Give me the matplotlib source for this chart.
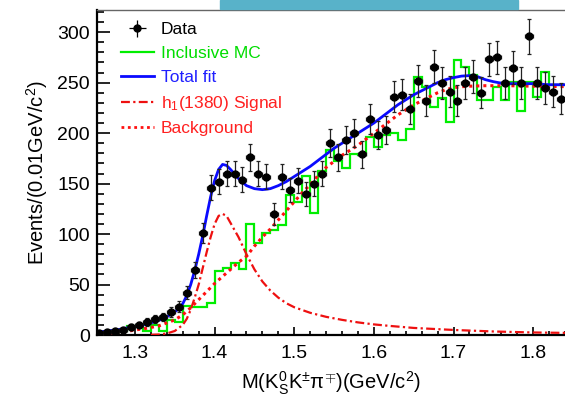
import matplotlib
matplotlib.use("Agg")
import matplotlib.pyplot as plt
from matplotlib.patches import Rectangle
import numpy as np

plt.rcParams['font.family'] = ['Liberation Sans', 'DejaVu Sans']
plt.rcParams['mathtext.fontset'] = 'custom'
plt.rcParams['mathtext.rm'] = 'Liberation Sans'
plt.rcParams['mathtext.it'] = 'Liberation Sans'

# data points, 0.01 GeV bins starting at 1.25
data_counts = [2, 3, 4, 5, 8, 10, 13, 16, 18, 23, 28, 42, 64, 101, 146, 152,
               160, 160, 154, 176, 160, 157, 120, 157, 144, 153, 140, 150, 160,
               190, 176, 193, 200, 179, 214, 198, 203, 236, 238, 224, 252, 232,
               266, 250, 241, 232, 250, 256, 240, 273, 275, 250, 265, 250, 296,
               250, 245, 241, 234]

# inclusive MC histogram, same binning
mc_counts = [2, 2, 3, 4, 9, 9, 4, 10, 4, 15, 13, 29, 28, 28, 32, 63, 66, 71,
             65, 110, 91, 101, 104, 109, 139, 132, 158, 121, 162, 183, 172,
             165, 179, 178, 196, 186, 198, 200, 193, 204, 256, 246, 226, 235,
             211, 272, 266, 258, 233, 233, 246, 233, 251, 222, 251, 236, 261,
             248, 248, 248]

# total fit curve
fit_m = [1.25, 1.26, 1.27, 1.28, 1.29, 1.30, 1.31, 1.32, 1.33, 1.34, 1.35,
         1.355, 1.36, 1.365, 1.37, 1.375, 1.38, 1.385, 1.39, 1.395, 1.40,
         1.405, 1.41, 1.415, 1.42, 1.43, 1.44, 1.45, 1.46, 1.47, 1.48, 1.49,
         1.50, 1.51, 1.52, 1.53, 1.54, 1.55, 1.56, 1.57, 1.58, 1.59, 1.60,
         1.61, 1.62, 1.63, 1.64, 1.65, 1.66, 1.67, 1.68, 1.69, 1.70, 1.71,
         1.72, 1.73, 1.74, 1.75, 1.76, 1.77, 1.78, 1.79, 1.80, 1.81, 1.82,
         1.83, 1.84, 1.85]
fit_v = [2.5, 3.5, 4.5, 5.5, 7, 8.5, 10, 12, 14.5, 18, 23, 26, 31, 39, 50, 64,
         80, 98, 118, 137, 153, 164, 169, 168, 164, 155, 148, 145, 144, 145,
         148, 152, 157, 162, 167, 173, 179, 185, 190, 195, 200, 205, 210, 216,
         222, 228, 233, 238, 242, 246, 250, 253, 255, 256.5, 257, 256, 253,
         251, 249.5, 249, 249, 249, 249, 248.5, 248, 248, 248, 248]

# h1(1380) signal component
sig_m = [1.32, 1.33, 1.34, 1.35, 1.36, 1.365, 1.37, 1.375, 1.38, 1.385, 1.39,
         1.395, 1.40, 1.405, 1.41, 1.415, 1.42, 1.43, 1.44, 1.45, 1.46, 1.47,
         1.48, 1.49, 1.50, 1.52, 1.54, 1.56, 1.58, 1.60, 1.62, 1.65, 1.70,
         1.75, 1.80, 1.85]
sig_v = [0.2, 0.5, 1.5, 4, 10, 16, 25, 37, 50, 66, 82, 97, 110, 118, 120, 118,
         111, 97, 80, 65, 53, 44, 37, 31.5, 27.5, 22, 18, 15, 12.5, 10.5, 9, 7,
         5, 3.5, 2.5, 2]

# background component
bkg_m = [1.25, 1.26, 1.27, 1.28, 1.29, 1.30, 1.31, 1.32, 1.33, 1.34, 1.35,
         1.36, 1.37, 1.38, 1.39, 1.40, 1.41, 1.42, 1.43, 1.44, 1.45, 1.46,
         1.47, 1.48, 1.49, 1.50, 1.51, 1.52, 1.53, 1.54, 1.55, 1.56, 1.57,
         1.58, 1.59, 1.60, 1.61, 1.62, 1.63, 1.64, 1.65, 1.66, 1.67, 1.68,
         1.69, 1.70, 1.71, 1.72, 1.74, 1.77, 1.80, 1.85]
bkg_v = [1, 1.5, 2, 3, 3.5, 5, 6, 7.5, 9, 12, 15, 20, 27, 35, 43, 51, 58, 65,
         72, 78, 88, 97, 105, 114, 123, 132, 141, 149, 158, 166, 172, 178, 183,
         188, 194, 200, 206, 212, 218, 223, 228, 232, 236, 240, 243, 245, 246,
         246.5, 247, 247, 246.5, 246]

edges = np.round(1.25 + 0.01 * np.arange(len(mc_counts) + 1), 3)
centers = np.round(1.255 + 0.01 * np.arange(len(data_counts)), 3)
data_counts = np.array(data_counts, dtype=float)

fig = plt.figure(figsize=(5.65, 3.96), dpi=100)
ax = fig.add_axes([97 / 565, 61 / 396, 1 - 97 / 565, 325 / 396])

# slide decoration at the top
fig.patches.append(Rectangle((220 / 565, 387 / 396), 298 / 565, 9 / 396,
                             transform=fig.transFigure, color='#58b2c9',
                             zorder=0))

ax.stairs(mc_counts, edges, baseline=None, color='#00ee00', lw=1.6, zorder=2)
ax.plot(bkg_m, bkg_v, color='#ff1010', lw=2.2, linestyle=(0, (1, 1.3)),
        zorder=3)
ax.plot(sig_m, sig_v, color='#ee1010', lw=1.6,
        linestyle=(0, (4, 1.5, 1, 1.5)), zorder=3)
ax.plot(fit_m, fit_v, color='#0a0aff', lw=2.0, zorder=4)
ax.errorbar(centers, data_counts, yerr=np.sqrt(data_counts), xerr=0.005,
            fmt='o', color='black', ms=5, elinewidth=0.9, capsize=1.5,
            capthick=0.9, ecolor='#222222', zorder=5)

ax.set_xlim(1.2523, 1.8394)
ax.set_ylim(0, 322)

ax.set_xticks([1.3, 1.4, 1.5, 1.6, 1.7, 1.8])
ax.set_xticks(np.arange(1.26, 1.84, 0.02), minor=True)
ax.set_yticks([0, 50, 100, 150, 200, 250, 300])
ax.set_yticks(np.arange(0, 321, 10), minor=True)
ax.tick_params(axis='both', which='both', direction='in', labelsize=14,
               width=1.2, top=False, right=False)
ax.tick_params(axis='x', which='major', length=6, pad=7)
ax.tick_params(axis='x', which='minor', length=3)
ax.tick_params(axis='y', which='major', length=9, pad=5)
ax.tick_params(axis='y', which='minor', length=5)

for s in ['left', 'bottom']:
    ax.spines[s].set_linewidth(1.6)
ax.spines['right'].set_visible(False)
ax.spines['top'].set_linewidth(1.0)
ax.spines['top'].set_color('#666666')

ax.set_ylabel('Events/(0.01GeV/c$^{2}$)', fontsize=14.5, labelpad=5)
ax.set_xlabel('M(K$^{0}_{S}$K$^{\\pm}$\u03c0$^{\\mp}$)(GeV/c$^{2}$)',
              fontsize=14.5, labelpad=6)

# legend
h_data = ax.errorbar([], [], yerr=[], xerr=[], fmt='o', color='black', ms=5,
                     elinewidth=0.9)
h_mc, = ax.plot([], [], color='#00ee00', lw=1.6)
h_fit, = ax.plot([], [], color='#0a0aff', lw=2.0)
h_sig, = ax.plot([], [], color='#ee1010', lw=1.6,
                 linestyle=(0, (4, 1.5, 1, 1.5)))
h_bkg, = ax.plot([], [], color='#ff1010', lw=2.0, linestyle=(0, (1, 1.3)))
labels = ['Data', 'Inclusive MC', 'Total fit', 'h$_1$(1380) Signal',
          'Background']
label_colors = ['black', '#00dd00', '#2020ff', '#ff2020', '#ff2020']
leg = ax.legend([h_data, h_mc, h_fit, h_sig, h_bkg], labels, loc='upper left',
                bbox_to_anchor=(0.025, 1.0), frameon=False, fontsize=12.5,
                handlelength=1.9, handletextpad=0.4, labelspacing=0.5,
                borderaxespad=0.3)
for t, c in zip(leg.get_texts(), label_colors):
    t.set_color(c)

fig.savefig('out.png', dpi=100)
